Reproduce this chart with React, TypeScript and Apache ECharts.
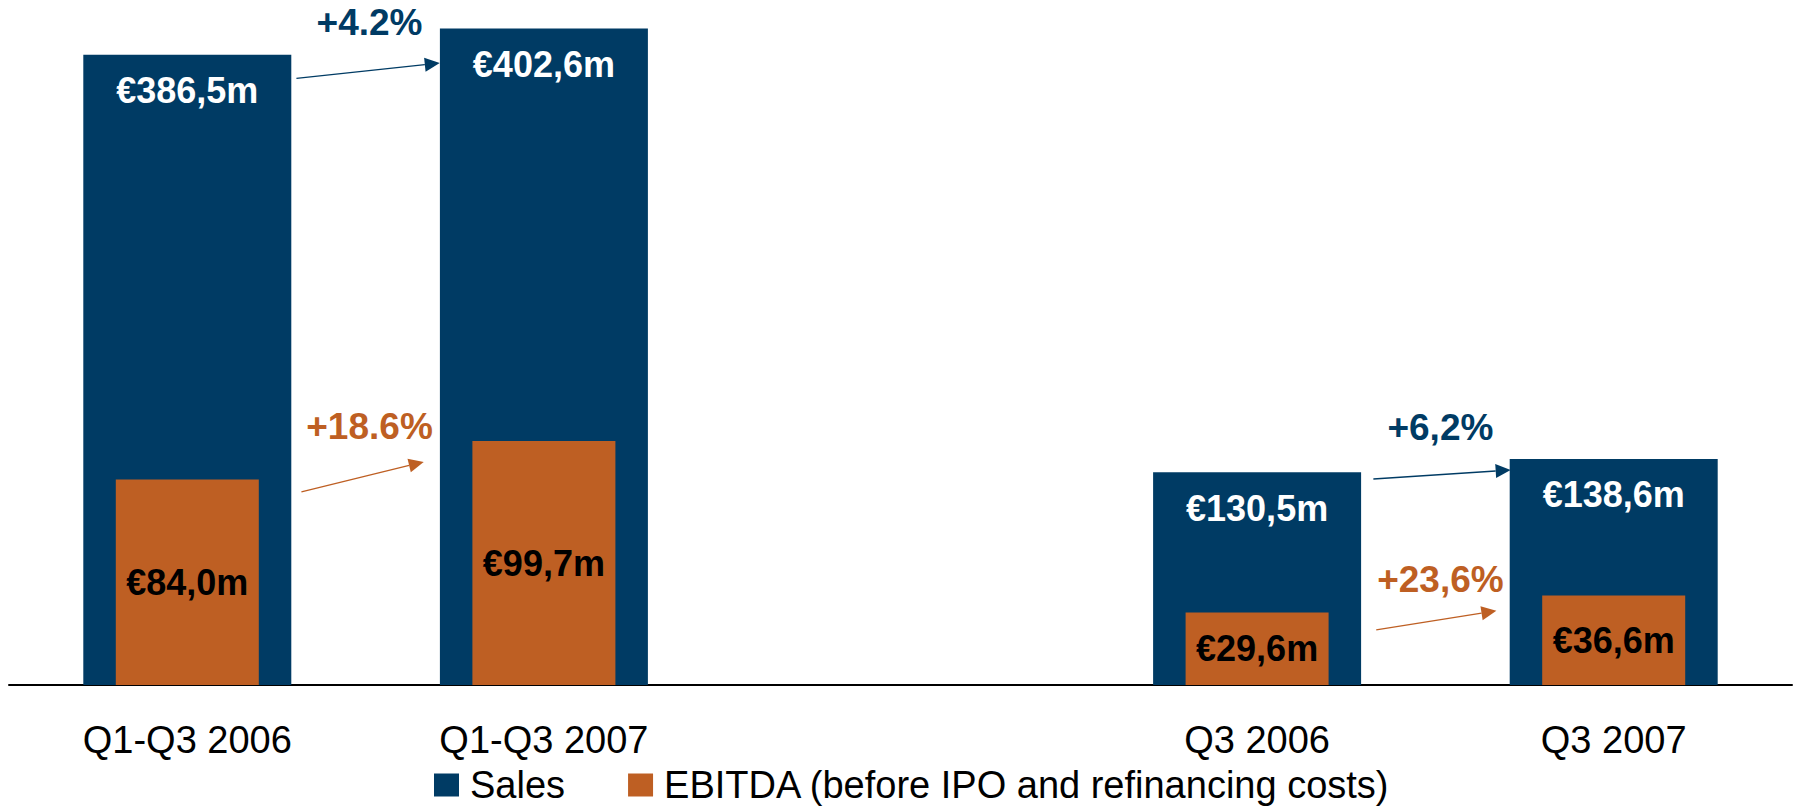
import React, { useEffect, useRef } from "react";
import * as echarts from "echarts";

// ---- data ----
const categories = ["Q1-Q3 2006", "Q1-Q3 2007", "", "Q3 2006", "Q3 2007"];
const salesValues: (number | null)[] = [386.5, 402.6, null, 130.5, 138.6];
const ebitdaValues: (number | null)[] = [84.0, 99.7, null, 29.6, 36.6];
const salesLabels = ["€386,5m", "€402,6m", "", "€130,5m", "€138,6m"];
const ebitdaLabels = ["€84,0m", "€99,7m", "", "€29,6m", "€36,6m"];
const seriesNames = ["Sales", "EBITDA (before IPO and refinancing costs)"];
const salesGrowthTexts = ["+4.2%", "+6,2%"];
const ebitdaGrowthTexts = ["+18.6%", "+23,6%"];

// ---- annotation anchors (in data space: category position, value) ----
const salesArrowAnchors = [
  [0.306, 372, 0.708, 381.3],
  [3.326, 126.3, 3.711, 131.8],
];
const ebitdaArrowAnchors = [
  [0.32, 78.9, 0.663, 91.2],
  [3.334, 22.5, 3.671, 30.3],
];
const salesTextAnchors = [
  [0.511, 406.2],
  [3.514, 157.6],
];
const ebitdaTextAnchors = [
  [0.511, 105.5],
  [3.514, 43.3],
];

const NAVY = "#003B64";
const ORANGE = "#BE5F23";
const FONT = "'Liberation Sans', Arial, Helvetica, sans-serif";

export default function App() {
  const ref = useRef<HTMLDivElement>(null);
  useEffect(() => {
    if (!ref.current) return;
    const chart = echarts.init(ref.current, undefined, { renderer: "svg" });
    chart.setOption({
      animation: false,
      backgroundColor: "#ffffff",
      textStyle: { fontFamily: FONT },
      legend: {
        left: 434,
        top: 766,
        padding: 0,
        itemWidth: 25,
        itemHeight: 23,
        itemGap: 63,
        icon: "rect",
        textStyle: {
          fontSize: 38,
          lineHeight: 38,
          color: "#000",
          fontFamily: FONT,
          padding: [0, 0, 0, 6],
        },
        data: seriesNames,
      },
      grid: { left: 9, right: 3, top: 0, bottom: 123, containLabel: false },
      xAxis: [
        {
          type: "category",
          data: categories,
          axisLine: { show: true, lineStyle: { color: "#000", width: 2 } },
          axisTick: { show: false },
          axisLabel: { color: "#000", fontSize: 38, fontFamily: FONT, margin: 36, interval: 0 },
        },
        { type: "category", data: categories, show: false },
      ],
      yAxis: [
        { type: "value", min: 0, max: 420, show: false, splitLine: { show: false } },
        { type: "value", min: 0, max: 280, show: false, splitLine: { show: false } },
      ],
      series: [
        {
          name: seriesNames[0],
          type: "bar",
          xAxisIndex: 0,
          yAxisIndex: 0,
          data: salesValues,
          barWidth: 208,
          itemStyle: { color: NAVY },
          label: {
            show: true,
            position: "insideTop",
            distance: 18,
            color: "#fff",
            fontSize: 36,
            fontWeight: "bold",
            fontFamily: FONT,
            formatter: (p: any) => salesLabels[p.dataIndex],
          },
          z: 2,
        },
        {
          name: seriesNames[1],
          type: "bar",
          xAxisIndex: 1,
          yAxisIndex: 1,
          data: ebitdaValues,
          barWidth: 143,
          itemStyle: { color: ORANGE },
          label: {
            show: true,
            position: "inside",
            color: "#000",
            fontSize: 36,
            fontWeight: "bold",
            fontFamily: FONT,
            formatter: (p: any) => ebitdaLabels[p.dataIndex],
          },
          z: 3,
        },
      ],
    });

    const toPx = (axisIdx: number, cat: number, val: number) => {
      const i0 = Math.floor(cat);
      const f = cat - i0;
      const a = chart.convertToPixel({ xAxisIndex: axisIdx, yAxisIndex: axisIdx }, [i0, val]) as number[];
      const b = chart.convertToPixel({ xAxisIndex: axisIdx, yAxisIndex: axisIdx }, [i0 + 1, val]) as number[];
      return [a[0] + (b[0] - a[0]) * f, a[1]];
    };

    const arrow = (p0: number[], p1: number[], color: string) => {
      const dx = p1[0] - p0[0];
      const dy = p1[1] - p0[1];
      const len = Math.sqrt(dx * dx + dy * dy);
      const ux = dx / len, uy = dy / len;
      const head = 15, hw = 7;
      const bx = p1[0] - ux * head, by = p1[1] - uy * head;
      const nx = -uy, ny = ux;
      return [
        {
          type: "line",
          shape: { x1: p0[0], y1: p0[1], x2: bx, y2: by },
          style: { stroke: color, lineWidth: 1.3 },
          z: 10,
        },
        {
          type: "polygon",
          shape: { points: [[p1[0], p1[1]], [bx + nx * hw, by + ny * hw], [bx - nx * hw, by - ny * hw]] },
          style: { fill: color },
          z: 10,
        },
      ];
    };

    const elements: any[] = [];
    salesArrowAnchors.forEach((a) => {
      elements.push(...arrow(toPx(0, a[0], a[1]), toPx(0, a[2], a[3]), NAVY));
    });
    ebitdaArrowAnchors.forEach((a) => {
      elements.push(...arrow(toPx(1, a[0], a[1]), toPx(1, a[2], a[3]), ORANGE));
    });
    const addText = (p: number[], text: string, color: string) => {
      elements.push({
        type: "text",
        x: p[0],
        y: p[1],
        style: {
          text,
          fill: color,
          font: `bold 37px ${FONT}`,
          align: "center",
          verticalAlign: "middle",
        },
        z: 10,
      });
    };
    salesTextAnchors.forEach((a, i) => addText(toPx(0, a[0], a[1]), salesGrowthTexts[i], NAVY));
    ebitdaTextAnchors.forEach((a, i) => addText(toPx(1, a[0], a[1]), ebitdaGrowthTexts[i], ORANGE));
    chart.setOption({ graphic: elements });

    return () => chart.dispose();
  }, []);
  return (
    <div
      ref={ref}
      style={{ position: "absolute", left: 0, top: 0, width: 1795, height: 808 }}
    />
  );
}
